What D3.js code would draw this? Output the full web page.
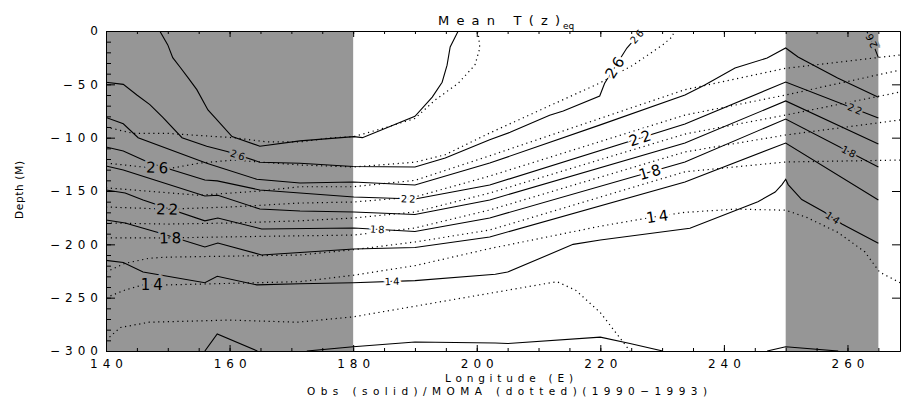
<!DOCTYPE html>
<html>
<head>
<meta charset="utf-8">
<script src="https://cdn.jsdelivr.net/npm/d3@7"></script>
<style>
    body { margin: 0; background: #fff; }
    text { font-family: "DejaVu Sans", sans-serif; fill: #000; }
    .axis path, .axis line { stroke: #000; stroke-width: 1; }
    .axis text { font-size: 12px; letter-spacing: 5px; fill: #000; }
    .obs { fill: none; stroke: #000; stroke-width: 1.1; }
    .mod { fill: none; stroke: #000; stroke-width: 1.2; stroke-dasharray: 1.2 3.6; }
</style>
</head>
<body>
<div id="chart"></div>
<script>
// shaded longitude bands and axis ticks
const shadeBands = [[140, 180], [250, 265]];
const lonTicks = [140, 160, 180, 200, 220, 240, 260];
const lonMinor = d3.range(145, 268, 5);
const depthTicks = [0, -50, -100, -150, -200, -250, -300];
const depthMinor = d3.range(-290, 0, 10);

// observed isotherms (solid), [longitude E, depth m]
const obs28 = [[148.7,0],[150.0,-13],[150.8,-25],[152.0,-34],[153.3,-44],[154.7,-55],[156.5,-74],[157.6,-81],[160.4,-99],[164.9,-108],[171.4,-103],[180.1,-99],[181.5,-100],[190.0,-80],[192.8,-62],[194.4,-48],[195.2,-32],[195.7,-15],[197.0,0]];
const obs26 = [[140,-48],[142.8,-50],[145.0,-60],[147.1,-69],[149.2,-81],[152.3,-100],[156.3,-108],[159.6,-113],[164.9,-123],[171.4,-124],[180.0,-127],[190.0,-127.5],[194.9,-119],[202.1,-102],[205.4,-95],[211.8,-79],[214.0,-75],[219.9,-61],[220.7,-49],[224.3,-16],[226.7,0]];
const obs26East = [[263.1,0],[264.2,-13],[265,-25]];
const obs24 = [[140,-81],[142.8,-87],[145.2,-100],[156.3,-124],[164.4,-139],[171.4,-142.5],[180.0,-141.6],[190.0,-144.4],[202.1,-123.8],[220,-88],[233.7,-60],[236.9,-50.6],[241.8,-34.7],[247.0,-25.3],[250.0,-15.9],[252.0,-24.4],[258.4,-44],[265,-62]];
const obs22 = [[140,-108.8],[142.8,-112.5],[147.1,-123.8],[156.0,-139.7],[158.0,-140.5],[164.9,-149],[171.4,-151.9],[180.1,-155.6],[190,-157.5],[202.1,-144.4],[233.7,-87.2],[250,-47.8],[265,-81.6]];
const obs20 = [[140,-126.6],[142.8,-130.3],[147.5,-139],[156.0,-154.7],[158.1,-154],[164.9,-166.9],[171.4,-168.8],[180.1,-169.7],[190,-172],[202.1,-158.4],[233.7,-105],[250,-65.6],[265,-106]];
const obs18 = [[140,-149],[143.1,-151.9],[146.0,-158.4],[156.0,-178],[158.1,-175.3],[165.2,-185.6],[180.1,-184.7],[190,-188],[202.1,-175.3],[233.7,-122.8],[250,-82.5],[265,-127.5]];
const obs16 = [[140,-177.2],[143.1,-180],[148.7,-189.4],[156.0,-202.5],[158.1,-198.8],[165.2,-210],[180.1,-204.4],[190,-203],[202.1,-193.1],[233.7,-141.6],[250,-105],[265,-158.4]];
const obs14 = [[140,-215],[142.8,-217],[146.0,-226],[156.0,-236],[158.0,-230],[164.4,-238],[171.4,-237],[180,-236],[190,-234],[203,-228],[205,-226],[215.6,-200],[220,-196],[234.5,-185],[245.5,-160],[248.3,-151],[249.4,-144],[250,-139],[250.4,-144],[252.6,-158],[256.3,-170],[259.1,-181],[265,-199]];
const obs12West = [[156.0,-300],[158.0,-284],[164.5,-300]];
const obs12Mid = [[172.5,-300],[180,-296],[190,-291.5],[203,-292.5],[205,-293],[220,-287],[224.8,-293],[230.1,-300]];
const obs12East = [[247.0,-300],[250.0,-296],[258.5,-300]];

// MOMA model isotherms (dotted)
const mod28 = [[140,-90],[144.4,-96],[150,-96],[155.2,-98],[160.6,-100],[166.1,-104],[171.4,-104],[176.7,-100],[180.1,-99],[185,-91],[190,-82],[193.2,-65],[197.0,-49],[199.7,-32],[200.5,-16],[200.2,0]];
const mod26 = [[140,-123.8],[146,-127.5],[150.8,-128.4],[155.2,-123.8],[160.6,-121],[171.4,-125.6],[180.1,-127.5],[190,-123],[194.9,-116],[202.1,-95.6],[219.9,-48.8],[225.3,-32],[230.1,-13],[231.6,-5.6],[232,0]];
const mod24 = [[140,-147],[155,-154],[165,-150],[171.4,-146],[180,-146],[190,-140],[202.1,-117],[233.7,-55],[250,-35],[268.5,-22.5]];
const mod22 = [[140,-165],[150,-167],[160,-165],[171.4,-161.3],[180.1,-160.3],[190,-155.6],[202.1,-136],[233.7,-78.8],[250,-60],[268.5,-36.6]];
const mod20 = [[140,-180],[150,-181],[160,-180],[171.4,-178],[180.1,-175.3],[190,-169.7],[202.1,-151.9],[233.7,-96.6],[250,-78.8],[268.5,-57.2]];
const mod18 = [[140,-194],[150,-194],[160,-193],[171.4,-192],[180.1,-191.3],[190,-184.7],[202.1,-167.8],[233.7,-113.4],[250,-97.5],[268.5,-83.4]];
const mod16 = [[140,-226],[143,-218],[147,-213],[150,-212],[171.4,-210],[180.1,-205],[190,-197.8],[202.1,-186.6],[233.7,-132],[250,-122.8],[268.5,-121]];
const mod14 = [[140,-250],[143,-243],[146,-238],[150,-238],[171.4,-235],[180,-229],[190,-220],[202.1,-204],[220,-183],[229,-174],[233.7,-170],[242,-167],[250,-168],[253.5,-175],[258.5,-189],[262.8,-207],[265.2,-226],[268.5,-236]];
const mod12 = [[140,-290],[142.3,-278],[147,-273],[160,-271],[171,-273],[180,-268],[190,-258],[202,-246],[213,-235],[216,-243],[220,-264],[224.8,-300]];

const obsLines = {obs28, obs26, obs26East, obs24, obs22, obs20, obs18, obs16, obs14, obs12West, obs12Mid, obs12East};
const modLines = {mod28, mod26, mod24, mod22, mod20, mod18, mod16, mod14, mod12};

// contour labels: which line, at which longitude
const contourLabels = [
    {on: "obs26", lon: 161.3, text: "26", big: false},
    {on: "obs26", lon: 222.3, text: "26", big: true},
    {on: "obs26", lon: 225.9, text: "26", big: false},
    {on: "obs26East", lon: 263.9, text: "26", big: false, flip: true},
    {on: "obs22", lon: 188.9, text: "22", big: false},
    {on: "obs18", lon: 183.9, text: "18", big: false},
    {on: "obs14", lon: 186.3, text: "14", big: false},
    {on: "obs22", lon: 226.4, text: "22", big: true},
    {on: "obs18", lon: 228.0, text: "18", big: true},
    {on: "mod14", lon: 229.2, text: "14", big: true},
    {on: "obs22", lon: 261.2, text: "22", big: false},
    {on: "obs18", lon: 260.2, text: "18", big: false},
    {on: "obs14", lon: 257.6, text: "14", big: false},
    {on: "mod26", lon: 148.3, text: "26", big: true},
    {on: "mod22", lon: 149.9, text: "22", big: true},
    {on: "mod18", lon: 150.4, text: "18", big: true},
    {on: "mod14", lon: 147.4, text: "14", big: true}
];

class ContourVis {

    constructor(parentElement) {
        this.parentElement = parentElement;
        this.initVis();
    }

    initVis() {
        let vis = this;

        vis.margin = {top: 31, right: 1, bottom: 47, left: 106};
        vis.width = 901 - vis.margin.left - vis.margin.right;
        vis.height = 398 - vis.margin.top - vis.margin.bottom;

        vis.root = d3.select("#" + vis.parentElement).append("svg")
            .attr("width", 901)
            .attr("height", 398);

        vis.svg = vis.root.append("g")
            .attr("transform", "translate(" + vis.margin.left + "," + vis.margin.top + ")");

        vis.x = d3.scaleLinear().domain([140, 268.5]).range([0, vis.width]);
        vis.y = d3.scaleLinear().domain([-300, 0]).range([vis.height, 0]);

        vis.svg.append("clipPath").attr("id", "plot-clip")
            .append("rect")
            .attr("width", vis.width)
            .attr("height", vis.height);

        vis.line = d3.line()
            .x(d => vis.x(d[0]))
            .y(d => vis.y(d[1]));

        vis.updateVis();
    }

    // point and angle on a line at a given longitude
    pointAt(pts, lon) {
        let vis = this;
        for (let i = 0; i < pts.length - 1; i++) {
            let a = pts[i], b = pts[i + 1];
            if ((lon >= a[0] && lon <= b[0]) || (lon <= a[0] && lon >= b[0])) {
                let t = (b[0] === a[0]) ? 0.5 : (lon - a[0]) / (b[0] - a[0]);
                let ax = vis.x(a[0]), ay = vis.y(a[1]), bx = vis.x(b[0]), by = vis.y(b[1]);
                return {
                    px: ax + t * (bx - ax),
                    py: ay + t * (by - ay),
                    angle: Math.atan2(by - ay, bx - ax) * 180 / Math.PI
                };
            }
        }
        return null;
    }

    inShade(lon) {
        return shadeBands.some(b => lon >= b[0] && lon <= b[1]);
    }

    updateVis() {
        let vis = this;

        // grey bands
        vis.svg.selectAll(".shade")
            .data(shadeBands)
            .enter().append("rect")
            .attr("class", "shade")
            .attr("x", d => vis.x(d[0]))
            .attr("y", 0)
            .attr("width", d => vis.x(d[1]) - vis.x(d[0]))
            .attr("height", vis.height)
            .attr("fill", "#969696");

        let lines = vis.svg.append("g").attr("clip-path", "url(#plot-clip)");

        lines.selectAll(".mod")
            .data(Object.values(modLines))
            .enter().append("path")
            .attr("class", "mod")
            .attr("d", vis.line);

        lines.selectAll(".obs")
            .data(Object.values(obsLines))
            .enter().append("path")
            .attr("class", "obs")
            .attr("d", vis.line);

        // labels, with a background halo to break the line
        let allLines = Object.assign({}, obsLines, modLines);
        contourLabels.forEach(function(l) {
            let p = vis.pointAt(allLines[l.on], l.lon);
            if (!p) return;
            let ang = p.angle;
            if (l.flip) ang += 180;
            let size = l.big ? 15 : 10;
            let spacing = l.big ? 3 : 2;
            vis.svg.append("text")
                .attr("class", "c-label")
                .attr("transform", "translate(" + p.px + "," + p.py + ") rotate(" + ang + ")")
                .attr("text-anchor", "middle")
                .attr("dy", "0.36em")
                .attr("dx", spacing / 2)
                .style("font-size", size + "px")
                .style("letter-spacing", spacing + "px")
                .style("paint-order", "stroke")
                .attr("stroke", vis.inShade(l.lon) ? "#969696" : "#fff")
                .attr("stroke-width", l.big ? 5 : 4)
                .text(l.text);
        });

        // axes
        let fmt = d3.format("d");

        vis.svg.append("g").attr("class", "axis")
            .call(d3.axisLeft(vis.y).tickValues(depthMinor).tickSize(-5).tickSizeOuter(0).tickFormat(""));
        vis.svg.append("g").attr("class", "axis y-axis")
            .call(d3.axisLeft(vis.y).tickValues(depthTicks).tickSize(-9).tickSizeOuter(0).tickPadding(3).tickFormat(fmt));

        vis.svg.append("g").attr("class", "axis")
            .attr("transform", "translate(" + vis.width + ",0)")
            .call(d3.axisRight(vis.y).tickValues(depthTicks).tickSize(-8).tickSizeOuter(0).tickFormat(""));

        vis.svg.append("g").attr("class", "axis")
            .attr("transform", "translate(0," + vis.height + ")")
            .call(d3.axisBottom(vis.x).tickValues(lonMinor).tickSize(-3).tickSizeOuter(0).tickFormat(""));
        vis.svg.append("g").attr("class", "axis x-axis")
            .attr("transform", "translate(0," + vis.height + ")")
            .call(d3.axisBottom(vis.x).tickValues(lonTicks).tickSize(-6).tickSizeOuter(0).tickPadding(8).tickFormat(fmt));

        vis.svg.append("g").attr("class", "axis")
            .call(d3.axisTop(vis.x).tickValues(lonMinor).tickSize(-3).tickSizeOuter(0).tickFormat(""));
        vis.svg.append("g").attr("class", "axis")
            .call(d3.axisTop(vis.x).tickValues(lonTicks).tickSize(-6).tickSizeOuter(0).tickFormat(""));

        vis.svg.selectAll(".x-axis text").attr("dx", 2.5);

        // titles
        vis.root.append("text")
            .attr("x", 438).attr("y", 25)
            .attr("textLength", 122)
            .style("font-size", "13px")
            .text("Mean T(z)");
        vis.root.append("text")
            .attr("x", 563).attr("y", 28.5)
            .style("font-size", "9px")
            .text("eq");

        vis.root.append("text")
            .attr("x", 445).attr("y", 381.5)
            .attr("textLength", 128)
            .style("font-size", "10.5px")
            .text("Longitude (E)");

        vis.root.append("text")
            .attr("x", 307).attr("y", 395)
            .attr("textLength", 400)
            .style("font-size", "10.5px")
            .text("Obs (solid)/MOMA (dotted)(1990\u22121993)");

        vis.root.append("text")
            .attr("transform", "translate(23,190) rotate(-90)")
            .attr("text-anchor", "middle")
            .attr("textLength", 58)
            .style("font-size", "10.5px")
            .text("Depth (M)");
    }
}

new ContourVis("chart");
</script>
</body>
</html>
